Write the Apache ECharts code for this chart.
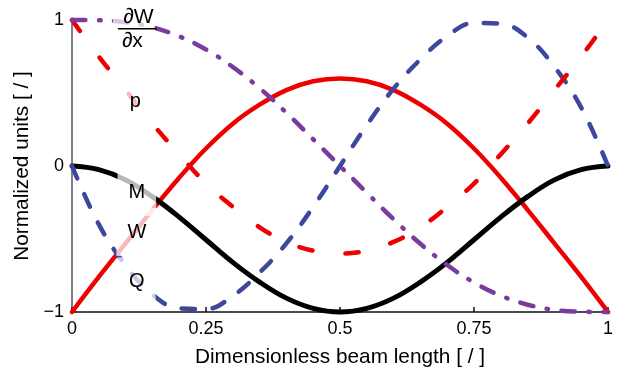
<!DOCTYPE html>
<html>
<head>
<meta charset="utf-8">
<script src="https://cdn.jsdelivr.net/npm/echarts@6/dist/echarts.min.js"></script>
<style>html,body{margin:0;padding:0;background:#fff;}#c{width:617px;height:373px;}</style>
</head>
<body>
<div id="c"></div>
<script>
// ---- data ----
const xs = [0,0.05,0.1,0.15,0.2,0.25,0.3,0.35,0.4,0.45,0.5,0.55,0.6,0.65,0.7,0.75,0.8,0.85,0.9,0.95,1];
const W  = [-1,-0.76,-0.53,-0.3,-0.08,0.12,0.29,0.42,0.52,0.58,0.6,0.58,0.52,0.42,0.29,0.12,-0.08,-0.3,-0.53,-0.76,-1];
const M  = [0,-0.025,-0.095,-0.21,-0.35,-0.505,-0.66,-0.795,-0.905,-0.975,-1,-0.975,-0.905,-0.795,-0.66,-0.505,-0.35,-0.21,-0.095,-0.025,0];
const Q  = [0,-0.4,-0.68,-0.88,-0.975,-0.98,-0.89,-0.73,-0.53,-0.28,0,0.28,0.53,0.73,0.89,0.98,0.975,0.88,0.68,0.4,0];
const P  = [1,0.75,0.52,0.29,0.08,-0.12,-0.28,-0.42,-0.52,-0.58,-0.6,-0.58,-0.52,-0.42,-0.28,-0.12,0.08,0.29,0.52,0.75,1];
const dWdx = [1,0.998,0.985,0.95,0.888,0.798,0.678,0.533,0.365,0.183,0,-0.183,-0.365,-0.533,-0.678,-0.798,-0.888,-0.95,-0.985,-0.998,-1];
const xTicks = [0,0.25,0.5,0.75,1];
const xTickLabels = ['0','0.25','0.5','0.75','1'];
const yTickLabels = {'-1':'\u22121','0':'0','1':'1'};
const labelAnchors = {p:[0.118,0.44], M:[0.121,-0.178], W:[0.121,-0.452], Q:[0.121,-0.79], dWdx:[0.123,0.94]};

const FONT = '"Liberation Sans", Arial, Helvetica, sans-serif';
const pairs = ys => xs.map((x,i)=>[x,ys[i]]);
const chart = echarts.init(document.getElementById('c'), null, {renderer:'canvas'});

function mk(name, ys, color, type, width, z){
  return {name, type:'line', data:pairs(ys), smooth:0.4, symbol:'none', clip:false, z,
    lineStyle:{color, width, type, cap:'round', join:'round'}, emphasis:{disabled:true}};
}

chart.setOption({
  animation:false,
  grid:{left:72, right:9, top:20, bottom:61, outerBoundsMode:'none', containLabel:false},
  xAxis:{type:'value', min:0, max:1, interval:0.25,
    name:'Dimensionless beam length [ / ]', nameLocation:'middle', nameGap:35,
    nameTextStyle:{fontFamily:FONT, fontSize:20.8, color:'#000'},
    axisLine:{show:true, onZero:false, lineStyle:{color:'#111', width:1.5}},
    axisTick:{show:true, inside:true, length:5, lineStyle:{color:'#111', width:1.5}},
    axisLabel:{fontFamily:FONT, fontSize:18, color:'#000', margin:8,
      formatter:v=>{const i=xTicks.indexOf(+v.toFixed(2)); return i>=0?xTickLabels[i]:'';}},
    splitLine:{show:false}},
  yAxis:{type:'value', min:-1, max:1, interval:1,
    name:'Normalized units [ / ]', nameLocation:'middle', nameGap:31, nameRotate:90,
    nameTextStyle:{fontFamily:FONT, fontSize:20.8, color:'#000'},
    axisLine:{show:true, onZero:false, lineStyle:{color:'#555', width:1.5}},
    axisTick:{show:true, inside:true, length:5, lineStyle:{color:'#333', width:1.5}},
    axisLabel:{fontFamily:FONT, fontSize:18, color:'#000', margin:8,
      formatter:v=>yTickLabels[String(Math.round(v))]},
    splitLine:{show:false}},
  series:[
    mk('W', W, '#ee0000', 'solid', 4.5, 2),
    mk('M', M, '#000000', 'solid', 5, 3),
    mk('Q', Q, '#3d479e', [13.5,17.5], 4.5, 4),
    mk('p', P, '#ee0000', [13.5,33], 4.5, 5),
    mk('dWdx', dWdx, '#7a3c9c', [13.5,13.5,1.5,13.5], 4.5, 6)
  ]
});

const px = a => chart.convertToPixel({xAxisIndex:0, yAxisIndex:0}, a);
const BG = 'rgba(255,255,255,0.72)';
function lab(t, a){
  const p = px(a);
  return {type:'text', x:p[0], y:p[1], z:100,
    style:{text:t, font:'20px '+FONT, fill:'#000', align:'center', verticalAlign:'middle',
      backgroundColor:BG, padding:[14,11]}};
}
const f = px(labelAnchors.dWdx);
chart.setOption({graphic:[
  lab('p', labelAnchors.p), lab('M', labelAnchors.M), lab('W', labelAnchors.W), lab('Q', labelAnchors.Q),
  {type:'rect', z:100, shape:{x:f[0]-25, y:f[1]-25, width:42, height:48}, style:{fill:BG}},
  {type:'text', z:101, x:f[0]+0.5, y:f[1]-12, style:{text:'\u2202W', font:'21px '+FONT, fill:'#000', align:'center', verticalAlign:'middle'}},
  {type:'line', z:101, shape:{x1:f[0]-20, y1:f[1], x2:f[0]+19, y2:f[1]}, style:{stroke:'#000', lineWidth:1.5}},
  {type:'text', z:101, x:f[0]-16, y:f[1]+12, style:{text:'\u2202x', font:'21px '+FONT, fill:'#000', align:'left', verticalAlign:'middle'}}
]});
</script>
</body>
</html>
